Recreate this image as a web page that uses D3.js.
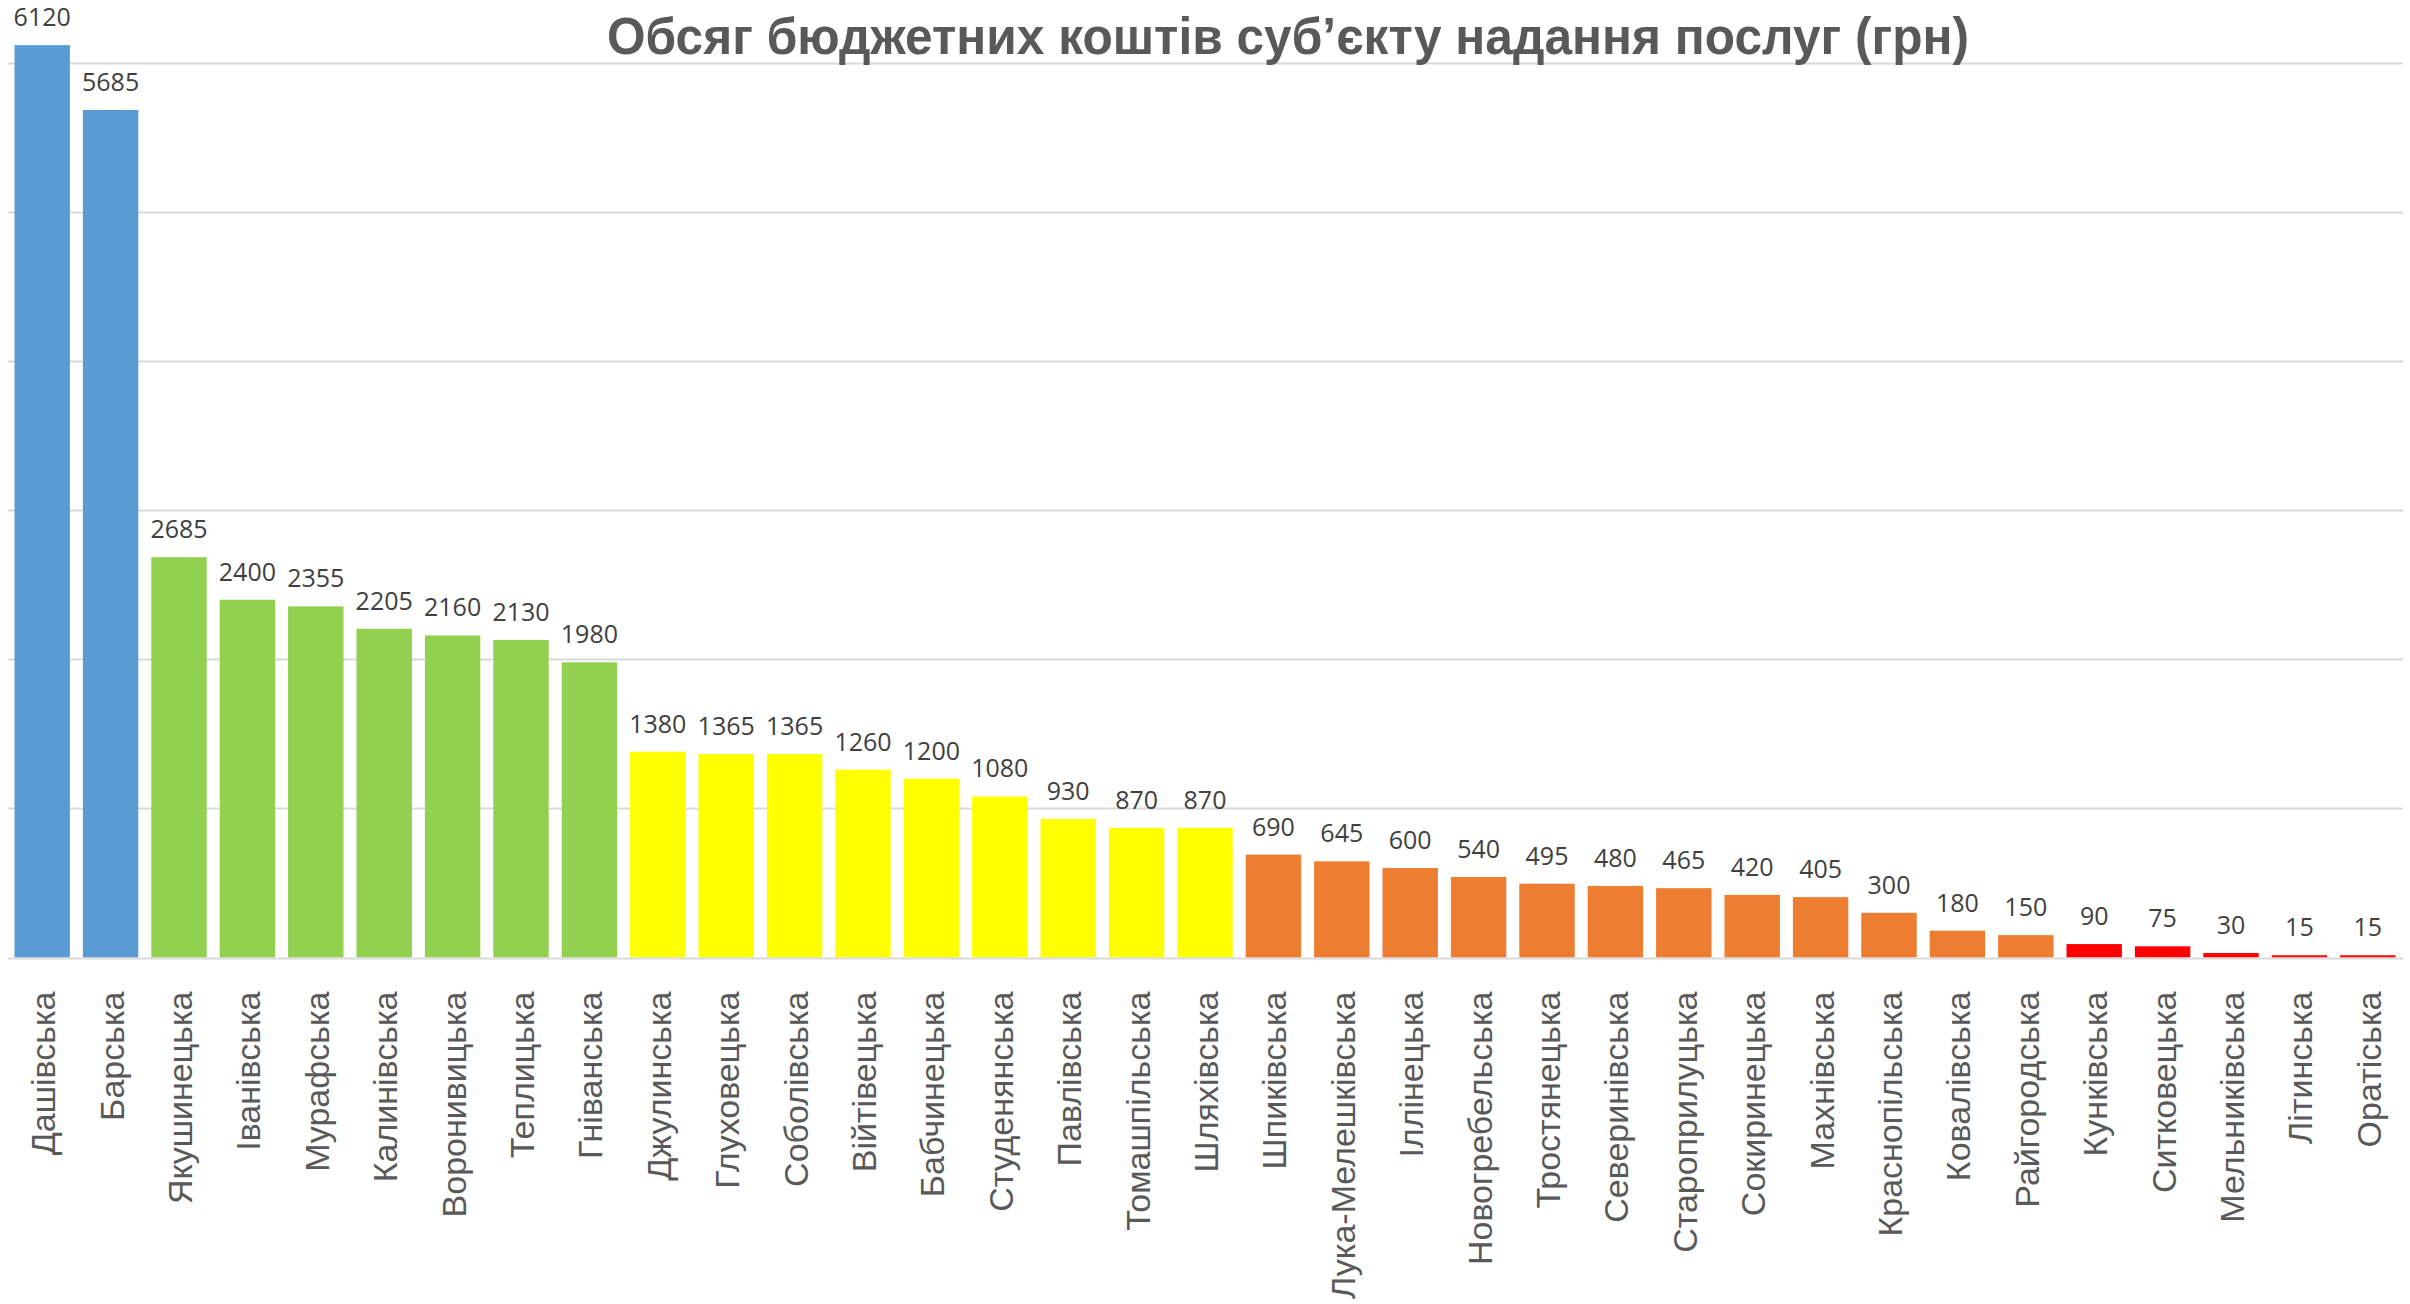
<!DOCTYPE html>
<html>
<head>
<meta charset="utf-8">
<script src="https://cdn.jsdelivr.net/npm/d3@7"></script>
<style>
  html, body { margin: 0; padding: 0; background: #fff; }
  svg { display: block; }
</style>
</head>
<body>
<div id="chart"></div>
<script>
// communities (hromadas), sorted by budget
var categories = ["Дашівська", "Барська", "Якушинецька", "Іванівська", "Мурафська", "Калинівська",
  "Воронивицька", "Теплицька", "Гніванська", "Джулинська", "Глуховецька", "Соболівська",
  "Війтівецька", "Бабчинецька", "Студенянська", "Павлівська", "Томашпільська", "Шляхівська",
  "Шпиківська", "Лука-Мелешківська", "Іллінецька", "Новогребельська", "Тростянецька", "Северинівська",
  "Староприлуцька", "Сокиринецька", "Махнівська", "Краснопільська", "Ковалівська", "Райгородська",
  "Кунківська", "Ситковецька", "Мельниківська", "Літинська", "Оратіська"];

var values = [6120, 5685, 2685, 2400, 2355, 2205, 2160, 2130, 1980, 1380, 1365, 1365,
  1260, 1200, 1080, 930, 870, 870, 690, 645, 600, 540, 495, 480,
  465, 420, 405, 300, 180, 150, 90, 75, 30, 15, 15];

var yTicks = [0, 1000, 2000, 3000, 4000, 5000, 6000];

// colour bands by amount
var bandLimits = [100, 800, 1500, 3000];
var bandColors = ["#FF0000", "#ED7D31", "#FFFF00", "#92D050", "#5B9BD5"];

var title = "Обсяг бюджетних коштів суб’єкту надання послуг (грн)";

var width = 2410, height = 1304;

var svg = d3.select("#chart").append("svg")
  .attr("width", width)
  .attr("height", height);

var x = d3.scaleBand()
  .domain(categories)
  .range([8, 2402])
  .paddingInner(0.19)
  .paddingOuter(0.095);

var y = d3.scaleLinear()
  .domain([0, 6000])
  .range([957.5, 63]);

var color = d3.scaleThreshold()
  .domain(bandLimits)
  .range(bandColors);

// gridlines
svg.append("g")
  .selectAll("line")
  .data(yTicks.slice(1))
  .enter().append("line")
    .attr("x1", 8)
    .attr("x2", 2403)
    .attr("y1", function(d) { return Math.round(y(d)) + 0.5; })
    .attr("y2", function(d) { return Math.round(y(d)) + 0.5; })
    .attr("stroke", "#D9D9D9")
    .attr("stroke-width", 2);

// bars
svg.append("g")
  .selectAll("rect")
  .data(values)
  .enter().append("rect")
    .attr("x", function(d, i) { return x(categories[i]); })
    .attr("width", x.bandwidth())
    .attr("y", function(d) { return y(d); })
    .attr("height", function(d) { return y(0) - y(d); })
    .attr("fill", function(d) { return color(d); });

// baseline
svg.append("line")
  .attr("x1", 8)
  .attr("x2", 2403)
  .attr("y1", y(0) + 1)
  .attr("y2", y(0) + 1)
  .attr("stroke", "#D9D9D9")
  .attr("stroke-width", 2);

// value labels
svg.append("g")
  .selectAll("text")
  .data(values)
  .enter().append("text")
    .attr("x", function(d, i) { return x(categories[i]) + x.bandwidth() / 2; })
    .attr("y", function(d) { return y(d) - 19; })
    .attr("text-anchor", "middle")
    .attr("font-family", "'Open Sans', sans-serif")
    .attr("font-size", 25)
    .attr("fill", "#404040")
    .text(function(d) { return d; });

// category axis labels (rotated)
var xAxis = svg.append("g")
  .attr("transform", "translate(0," + y(0) + ")")
  .call(d3.axisBottom(x).tickSize(0).tickPadding(0));

xAxis.select(".domain").remove();
xAxis.selectAll("text")
  .attr("font-family", "'Liberation Sans', Arial, sans-serif")
  .attr("font-size", 34)
  .attr("fill", "#595959")
  .attr("text-anchor", "end")
  .attr("transform", "rotate(-90)")
  .attr("x", -34)
  .attr("y", 0)
  .attr("dy", "0.38em");

// title
svg.append("text")
  .attr("x", 1288)
  .attr("y", 54)
  .attr("text-anchor", "middle")
  .attr("font-family", "'Liberation Sans', Arial, sans-serif")
  .attr("font-weight", "bold")
  .attr("font-size", 52)
  .attr("fill", "#595959")
  .attr("textLength", 1362)
  .attr("lengthAdjust", "spacingAndGlyphs")
  .text(title);
</script>
</body>
</html>
